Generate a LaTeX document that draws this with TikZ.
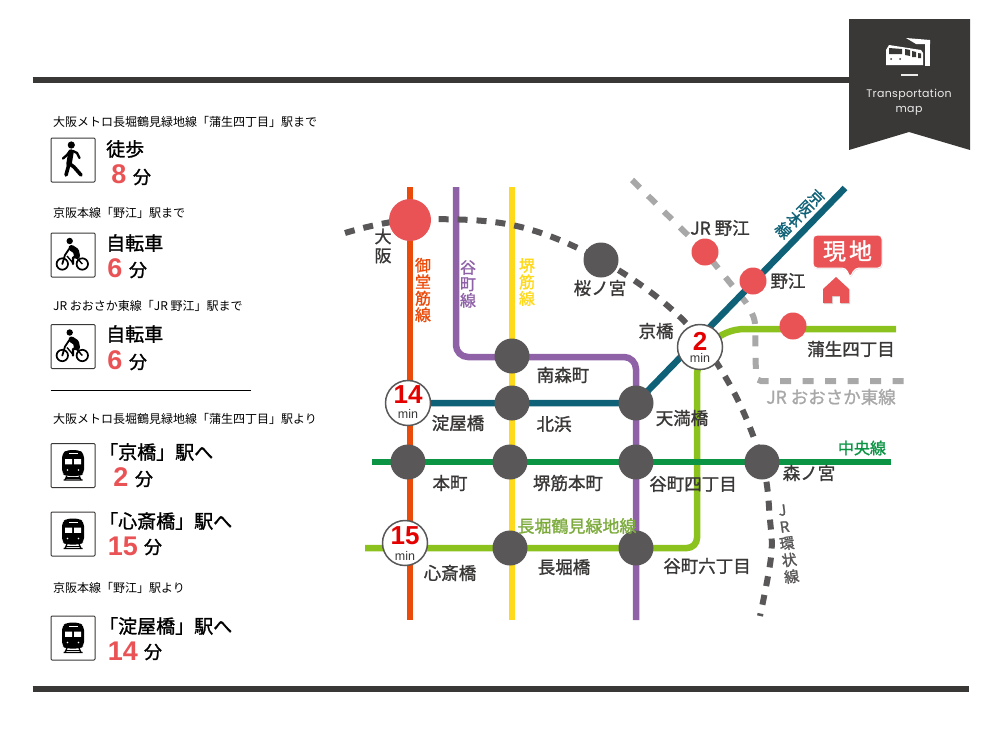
\documentclass[tikz,border=0pt]{standalone}
\usepackage{fontspec}
\setmainfont{Noto Sans CJK JP}
\newfontfamily\numfont{Liberation Sans}
\newfontfamily\capfont[LetterSpace=3]{Poppins}
\newfontfamily\medfont[FakeBold=1.3]{Noto Sans CJK JP}
\usetikzlibrary{backgrounds,shadows}

\definecolor{ink}{HTML}{3A3837}
\definecolor{stn}{HTML}{595757}
\definecolor{coral}{HTML}{EA5355}
\definecolor{midocol}{HTML}{EA4B0B}
\definecolor{tanicol}{HTML}{8F62A8}
\definecolor{sakaicol}{HTML}{FFD91C}
\definecolor{keicol}{HTML}{0F6177}
\definecolor{chuocol}{HTML}{0B9444}
\definecolor{nagacol}{HTML}{8CC21E}
\definecolor{nagatxt}{HTML}{7CAB3C}
\definecolor{jrgray}{HTML}{A8A8A8}

\tikzset{
  stop/.style={circle,fill=stn,minimum size=35pt,inner sep=0pt},
  hub/.style={circle,fill=coral,minimum size=27pt,inner sep=0pt},
  timer/.style={circle,draw=stn,line width=1.5pt,fill=white,minimum size=45pt,inner sep=0pt},
  lbl/.style={text=ink,font=\fontsize{17.5}{17.5}\selectfont\medfont,inner sep=0pt},
  vlbl/.style={font=\fontsize{16}{16.5}\selectfont\medfont,inner sep=0pt,align=center},
  small/.style={anchor=west,inner sep=0pt,font=\fontsize{12}{12}\selectfont},
  head/.style={anchor=west,inner sep=0pt,font=\fontsize{19}{19}\selectfont\medfont},
  minute/.style={inner sep=0pt,font=\fontsize{18}{18}\selectfont\medfont},
  num/.style={inner sep=0pt,text=coral,font=\fontsize{27}{27}\selectfont\numfont\bfseries},
  iconbox/.style={draw=ink,line width=1pt,rounded corners=1pt,minimum size=44pt,inner sep=0pt},
  rail/.style={line width=6.5pt},
  pics/walker/.style={code={
    \fill (-1.7,-15) circle (3.6);
    \draw[line width=5.5pt,line cap=round,line join=round] (-2,-8) -- (-4,4);
    \draw[line width=3.6pt,line cap=round,line join=round] (-4,4) -- (-7,15);
    \draw[line width=3.6pt,line cap=round,line join=round] (-3,4) -- (1,7) -- (8,15);
    \draw[line width=2.4pt,line cap=round,line join=round] (-3,-9) -- (-6,-5) -- (-10,-1.5);
    \draw[line width=2.4pt,line cap=round,line join=round] (0,-9) -- (4,-7) -- (6.5,-2);
  }},
  pics/rider/.style={code={
    \fill (-3.3,-14) circle (3.2);
    \draw[line width=1.7pt] (-10.7,9) circle (5.7);
    \draw[line width=1.7pt] (9.3,9) circle (5.7);
    \draw[line width=6pt,line cap=round,line join=round] (-1.5,-7) -- (3,-4) -- (4,1);
    \draw[line width=2.4pt,line cap=round,line join=round] (3,1) -- (0,3) -- (0,9);
    \draw[line width=1.8pt,line cap=round,line join=round] (-4,-6) -- (-8,0) -- (-10.7,9);
    \draw[line width=1.4pt] (-6,1) -- (0,8) (3,2) -- (9.3,9);
  }},
  pics/trainfig/.style={code={
    \fill[rounded corners=4pt] (-11,-12) -- (-6,-15.5) -- (6,-15.5) -- (11,-12) -- (11,8) -- (7,10.5) -- (-7,10.5) -- (-11,8) -- cycle;
    \fill[white] (-8,-6.5) rectangle (-1,-1.2) (1,-6.5) rectangle (8,-1.2);
    \fill[white] (-4.5,-12.5) rectangle (4.5,-11.5);
    \fill[white] (-5.5,4.5) circle (0.9) (5.5,4.5) circle (0.9);
    \draw[line width=1.3pt] (-6,10) -- (-8,14.5) (6,10) -- (8,14.5) (-9.5,14.5) -- (9.5,14.5);
    \draw[line width=1.1pt] (-7,12.5) -- (7,12.5);
  }},
}

\begin{document}
\begin{tikzpicture}[x=1pt,y=-1pt]
  \useasboundingbox (0,0) rectangle (1000,750);

  % Reglas y cinta
  \node[inner sep=0pt] (ruleA) at (32,80) {};
  \node[inner sep=0pt] (ruleB) at (850,80) {};
  \node[inner sep=0pt] (ruleC) at (32,689) {};
  \node[inner sep=0pt] (ruleD) at (970,689) {};
  \draw[ink,line width=6pt] (ruleA) -- (ruleB);
  \draw[ink,line width=6pt] (ruleC) -- (ruleD);
  \fill[ink] (849,19) -- (970,19) -- (970,150) -- (909,132) -- (849,150) -- cycle;
  \fill[white] (886,50) -- (889,45) -- (921,50) -- (923,53) -- (923,65) -- (886,65) -- cycle;
  \fill[white] (906,38) -- (930,40) -- (930,44) -- (916,44) -- cycle;
  \fill[white] (925,44) rectangle (930,66);
  \fill[ink] (889,48) -- (902,49) -- (902,54) -- (889,54) -- cycle;
  \fill[ink] (905,49) -- (910,50) -- (910,56) -- (905,55) -- cycle;
  \fill[ink] (912,51) -- (916,52) -- (916,57) -- (912,57) -- cycle;
  \fill[ink] (918,53) -- (921,53.5) -- (921,58) -- (918,58) -- cycle;
  \fill[ink] (891,59) circle (1) (900,59) circle (1);
  \fill[white!90!ink] (901,74) rectangle (918,75.5);
  \node[anchor=base,text=white!90!ink,inner sep=0pt,font=\fontsize{11}{11}\selectfont\capfont] (capA) at (909,97) {Transportation};
  \node[anchor=base,text=white!90!ink,inner sep=0pt,font=\fontsize{11}{11}\selectfont\capfont] (capB) at (909,112) {map};

  % Lista de la izquierda
  \node[small] (txtA) at (53,122) {大阪メトロ長堀鶴見緑地線「蒲生四丁目」駅まで};
  \node[iconbox] (boxA) at (73,160) {};
  \pic at (boxA) {walker};
  \node[head] (headA) at (106,149) {徒歩};
  \node[num] (numA) at (119,174) {8};
  \node[minute] (minA) at (142,177) {分};

  \node[small] (txtB) at (53,213) {京阪本線「野江」駅まで};
  \node[iconbox] (boxB) at (73,255) {};
  \pic at (boxB) {rider};
  \node[head] (headB) at (106,243) {自転車};
  \node[num] (numB) at (115,268) {6};
  \node[minute] (minB) at (138,270) {分};

  \node[small] (txtC) at (53,306) {JR おおさか東線「JR 野江」駅まで};
  \node[iconbox] (boxC) at (73,346.5) {};
  \pic at (boxC) {rider};
  \node[head] (headC) at (106,334) {自転車};
  \node[num] (numC) at (115,360) {6};
  \node[minute] (minC) at (138,362) {分};

  \node[inner sep=0pt] (divA) at (50,390) {};
  \node[inner sep=0pt] (divB) at (252,390) {};
  \draw[line width=1pt] (divA) -- (divB);

  \node[small] (txtD) at (53,419) {大阪メトロ長堀鶴見緑地線「蒲生四丁目」駅より};
  \node[iconbox] (boxD) at (73,465.5) {};
  \pic at (boxD) {trainfig};
  \node[head] (headD) at (99,452) {「京橋」駅へ};
  \node[num] (numD) at (121,477) {2};
  \node[minute] (minD) at (144,479) {分};

  \node[iconbox] (boxE) at (73,534) {};
  \pic at (boxE) {trainfig};
  \node[head] (headE) at (99,521) {「心斎橋」駅へ};
  \node[num] (numE) at (123,546) {15};
  \node[minute] (minE) at (153,547) {分};

  \node[small] (txtF) at (53,588) {京阪本線「野江」駅より};
  \node[iconbox] (boxF) at (73,638) {};
  \pic at (boxF) {trainfig};
  \node[head] (headF) at (99,626) {「淀屋橋」駅へ};
  \node[num] (numF) at (123,651) {14};
  \node[minute] (minF) at (153,652) {分};

  % Estaciones
  \node[circle,fill=coral,minimum size=42pt,inner sep=0pt] (osaka) at (410,220) {};
  \node[stop] (sakura) at (601,260) {};
  \node[stop] (minami) at (512,356) {};
  \node[stop] (kita) at (512,403) {};
  \node[stop] (tenma) at (636,403) {};
  \node[stop] (honmachi) at (408,462) {};
  \node[stop] (sakaisuji) at (510,462) {};
  \node[stop] (yon) at (636,462) {};
  \node[stop] (mori) at (762,462) {};
  \node[stop] (naga) at (510,548) {};
  \node[stop] (roku) at (636,548) {};
  \node[hub] (jrnoe) at (705,252) {};
  \node[hub] (noe) at (753,281) {};
  \node[hub] (gamo) at (793,326) {};
  \node[timer] (yodo) at (408,403) {};
  \node[timer] (shin) at (405,543) {};
  \node[timer] (kyo) at (700,347) {};

  % Extremos libres
  \coordinate (midoT) at (410,187);
  \coordinate (midoB) at (410,620);
  \coordinate (taniT) at (456,187);
  \coordinate (taniB) at (636,620);
  \coordinate (sakaiT) at (512,187);
  \coordinate (sakaiB) at (512,620);
  \coordinate (keiE) at (845,188);
  \coordinate (chuoW) at (372,462);
  \coordinate (chuoE) at (891,462);
  \coordinate (nagaW) at (365,548);
  \coordinate (nagaE) at (896,329);
  \coordinate (gyA) at (632,180);
  \coordinate (gyB) at (909,381);
  \coordinate (loopA) at (345,233);
  \coordinate (loopB) at (760,616);

  \begin{scope}[on background layer]
    % JR Osaka Higashi
    \draw[jrgray,line width=6pt,dash pattern=on 11pt off 11.5pt,rounded corners=5pt]
      (gyA) -- (jrnoe.center) -- (748,305) -- (755,320) -- (756,381) -- (gyB);
    % Lineas de metro
    \draw[midocol,rail] (midoT) -- (midoB);
    \draw[sakaicol,rail] (sakaiT) -- (sakaiB);
    \draw[tanicol,rail,rounded corners=12pt] (taniT) -- (456,357) -- (636,357) -- (taniB);
    \draw[keicol,rail] (yodo.center) -- (tenma.center) -- (keiE);
    \draw[nagacol,rail,rounded corners=10pt] (nagaW) -- (697,548) [rounded corners=48pt] -- (697,329) -- (nagaE);
    \draw[chuocol,rail] (chuoW) -- (chuoE);
    % JR Loop
    \draw[stn,line width=6pt,dash pattern=on 10pt off 9pt] plot[smooth,tension=0.6] coordinates
      {(loopA) (osaka.center) (512,225) (sakura.center) (680,317) (730,385) (mori.center) (770,520) (771,557) (loopB)};
  \end{scope}

  % Rotulos de los circulos
  \node[inner sep=0pt,text=red!90!black,font=\fontsize{26}{26}\selectfont\numfont\bfseries] (yodoN) at (408,395) {14};
  \node[inner sep=0pt,text=ink,font=\fontsize{12.5}{12.5}\selectfont\numfont] (yodoM) at (408,414) {min};
  \node[inner sep=0pt,text=red!90!black,font=\fontsize{26}{26}\selectfont\numfont\bfseries] (shinN) at (405,536) {15};
  \node[inner sep=0pt,text=ink,font=\fontsize{12.5}{12.5}\selectfont\numfont] (shinM) at (405,556) {min};
  \node[inner sep=0pt,text=red!90!black,font=\fontsize{26}{26}\selectfont\numfont\bfseries] (kyoN) at (700,341) {2};
  \node[inner sep=0pt,text=ink,font=\fontsize{12.5}{12.5}\selectfont\numfont] (kyoM) at (700,358) {min};

  % Nombres
  \node[vlbl,text=ink,font=\fontsize{17}{19}\selectfont\medfont] (lOsaka) at (383,246) {大\\阪};
  \node[vlbl,text=midocol] (lMido) at (423,290) {御\\堂\\筋\\線};
  \node[vlbl,text=tanicol] (lTani) at (468,284) {谷\\町\\線};
  \node[vlbl,text=sakaicol] (lSakai) at (527,282) {堺\\筋\\線};
  \node[vlbl,text=keicol,rotate=-45,font=\fontsize{15.5}{15.5}\selectfont\medfont] (lKei) at (800,214) {京\\阪\\本\\線};
  \node[vlbl,text=stn,rotate=8,font=\fontsize{15}{16.8}\selectfont\medfont] (lLoop) at (787,544) {J\\R\\環\\状\\線};
  \node[lbl] (lSakura) at (600,288) {桜ノ宮};
  \node[lbl] (lKyo) at (656,331) {京橋};
  \node[lbl] (lJrnoe) at (720,228) {JR 野江};
  \node[lbl] (lNoe) at (788,281) {野江};
  \node[lbl] (lGamo) at (851,349) {蒲生四丁目};
  \node[lbl,text=jrgray] (lHigashi) at (831,397) {JR おおさか東線};
  \node[lbl] (lMinami) at (563,375) {南森町};
  \node[lbl] (lKita) at (554,424) {北浜};
  \node[lbl] (lYodo) at (458,423) {淀屋橋};
  \node[lbl] (lTenma) at (682,418) {天満橋};
  \node[lbl] (lHon) at (450,483) {本町};
  \node[lbl] (lSakaiH) at (568,483) {堺筋本町};
  \node[lbl] (lYon) at (693,484) {谷町四丁目};
  \node[lbl] (lMori) at (809,473) {森ノ宮};
  \node[lbl,text=chuocol,font=\fontsize{16}{16}\selectfont\medfont] (lChuo) at (862,448) {中央線};
  \node[lbl,text=nagatxt,font=\fontsize{17}{17}\selectfont\medfont] (lNagaL) at (577,526) {長堀鶴見緑地線};
  \node[lbl] (lNaga) at (564,567) {長堀橋};
  \node[lbl] (lShin) at (450,573) {心斎橋};
  \node[lbl] (lRoku) at (707,566) {谷町六丁目};

  % Cartel del lugar actual
  \fill[coral,rounded corners=4pt,draw=white,line width=1pt,drop shadow={shadow xshift=0.5pt,shadow yshift=-1pt,opacity=0.3}]
    (813,235) -- (882,235) -- (882,268) -- (855,268) -- (850,278) -- (846,268) -- (813,268) -- cycle;
  \node[text=white,inner sep=0pt,font=\fontsize{23}{23}\selectfont\medfont] (here) at (847.5,251) {現\hspace{3pt}地};
  \fill[coral,drop shadow={shadow xshift=1pt,shadow yshift=-1pt,opacity=0.3}]
    (823,289) -- (836,277) -- (849,289) -- (849,303) -- (840,303) -- (840,296) -- (832,296) -- (832,303) -- (823,303) -- cycle;
\end{tikzpicture}
\end{document}
